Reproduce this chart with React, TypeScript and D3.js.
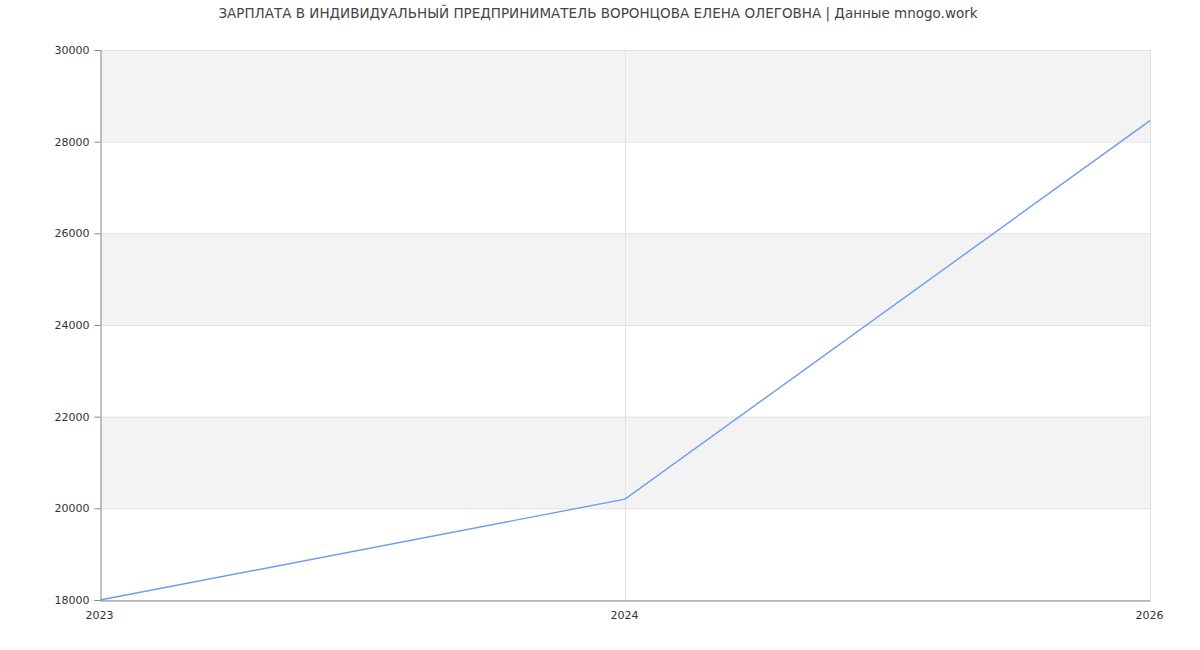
import React, { useEffect, useRef } from 'react'
import * as d3 from 'd3'

const title = 'ЗАРПЛАТА В ИНДИВИДУАЛЬНЫЙ ПРЕДПРИНИМАТЕЛЬ ВОРОНЦОВА ЕЛЕНА ОЛЕГОВНА | Данные mnogo.work'
const years = ['2023', '2024', '2026']
const salaries = [18000, 20200, 28460]
const yTicks = [18000, 20000, 22000, 24000, 26000, 28000, 30000]
const bands = [
  [20000, 22000],
  [24000, 26000],
  [28000, 30000],
]

const width = 1200
const height = 650
const margin = { top: 50, right: 50, bottom: 50, left: 100 }

const App: React.FC = () => {
  const svgRef = useRef<SVGSVGElement>(null)

  useEffect(() => {
    if (!svgRef.current) return
    const font = 'DejaVu Sans, sans-serif'

    const x = d3
      .scalePoint()
      .domain(years)
      .range([margin.left, width - margin.right])

    const y = d3
      .scaleLinear()
      .domain([18000, 30000])
      .range([height - margin.bottom, margin.top])

    const svg = d3.select(svgRef.current)
    svg.selectAll('*').remove()
    svg.attr('width', width).attr('height', height)

    svg
      .append('text')
      .attr('x', width / 2 - 2)
      .attr('y', 18)
      .attr('text-anchor', 'middle')
      .style('font-family', font)
      .style('font-size', '13.5px')
      .style('fill', '#444')
      .text(title)

    // alternating bands
    svg
      .append('g')
      .selectAll('rect')
      .data(bands)
      .enter()
      .append('rect')
      .attr('x', margin.left)
      .attr('width', width - margin.right - margin.left)
      .attr('y', (d) => y(d[1]))
      .attr('height', (d) => y(d[0]) - y(d[1]))
      .style('fill', '#f3f3f3')

    // horizontal grid
    svg
      .append('g')
      .selectAll('line')
      .data(yTicks)
      .enter()
      .append('line')
      .attr('x1', margin.left)
      .attr('x2', width - margin.right)
      .attr('y1', (d) => y(d) + 0.5)
      .attr('y2', (d) => y(d) + 0.5)
      .style('stroke', '#e2e2e2')

    // vertical grid
    svg
      .append('g')
      .selectAll('line')
      .data(years.slice(1))
      .enter()
      .append('line')
      .attr('x1', (d) => (x(d) || 0) + 0.5)
      .attr('x2', (d) => (x(d) || 0) + 0.5)
      .attr('y1', margin.top)
      .attr('y2', height - margin.bottom)
      .style('stroke', '#e2e2e2')

    const line = d3
      .line<number>()
      .x((_, i) => x(years[i]) || 0)
      .y((d) => y(d))

    svg
      .append('path')
      .datum(salaries)
      .attr('d', line)
      .style('fill', 'none')
      .style('stroke', '#6f9cf0')
      .style('stroke-width', 1.4)

    const yAxis = svg
      .append('g')
      .attr('transform', `translate(${margin.left + 0.5},0)`)
      .call(d3.axisLeft(y).tickValues(yTicks).tickSize(6).tickPadding(5).tickFormat(d3.format('d')))
    yAxis.select('.domain').style('stroke', '#888')
    yAxis.selectAll('.tick line').style('stroke', '#888')
    yAxis
      .selectAll('.tick text')
      .style('font-family', font)
      .style('font-size', '11px')
      .style('fill', '#333')

    const xAxis = svg
      .append('g')
      .attr('transform', `translate(0,${height - margin.bottom + 0.5})`)
      .call(d3.axisBottom(x).tickSize(0).tickPadding(11))
    xAxis.select('.domain').style('stroke', '#888')
    xAxis
      .selectAll('.tick text')
      .attr('dx', -1)
      .style('font-family', font)
      .style('font-size', '11px')
      .style('fill', '#333')
  }, [])

  return (
    <svg
      ref={svgRef}
      style={{ position: 'absolute', left: 0, top: 0, display: 'block', background: '#fff' }}
    />
  )
}

export default App
